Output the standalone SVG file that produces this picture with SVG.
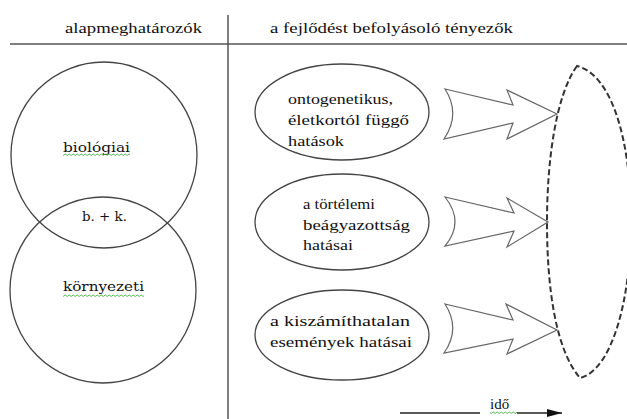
<svg xmlns="http://www.w3.org/2000/svg" width="627" height="419" viewBox="0 0 627 419" font-family="'Liberation Serif', serif">
<style>
  .t { font-size: 15px; fill: #111; }
  .ds { font-family: 'DejaVu Serif', serif; font-size: 13.5px; }
  .node { fill: none; stroke: #444; stroke-width: 1.3; }
  .ell { fill: #fff; stroke: #444; stroke-width: 1.3; }
  .blk { fill: #fff; stroke: #666; stroke-width: 1.2; stroke-linejoin: miter; }
  .dash { fill: none; stroke: #333; stroke-width: 2; stroke-dasharray: 6 3; }
  .rule { stroke: #555; stroke-width: 1.5; fill: none; }
</style>
<defs>
  <pattern id="wave" width="4" height="3" patternUnits="userSpaceOnUse">
    <path d="M0,2 Q1,0 2,1.5 T4,2" fill="none" stroke="#3a3" stroke-width="0.8"/>
  </pattern>
  <marker id="ah" viewBox="0 0 10 10" refX="10" refY="5" markerWidth="15" markerHeight="8" markerUnits="userSpaceOnUse" orient="auto" preserveAspectRatio="none">
    <path d="M0,0 L10,5 L0,10 Z" fill="#111"/>
  </marker>
</defs>

<g id="frame">
  <line class="rule" x1="10" y1="44" x2="627" y2="44"/>
  <line class="rule" x1="228" y1="15" x2="228" y2="419"/>
  <text class="t" x="65" y="33" textLength="137" lengthAdjust="spacingAndGlyphs">alapmeghatározók</text>
  <text class="t" x="270" y="33" textLength="243" lengthAdjust="spacingAndGlyphs">a fejlődést befolyásoló tényezők</text>
</g>

<g id="biologiai">
  <circle class="node" cx="104" cy="155" r="93"/>
  <text class="t ds" x="63" y="152" textLength="67" lengthAdjust="spacingAndGlyphs">biológiai</text>
  <rect x="63" y="153" width="67" height="3" fill="url(#wave)"/>
</g>
<g id="kornyezeti">
  <circle class="node" cx="103" cy="290" r="93"/>
  <text class="t ds" x="63" y="291" textLength="81" lengthAdjust="spacingAndGlyphs">környezeti</text>
  <rect x="63" y="294" width="81" height="3" fill="url(#wave)"/>
</g>
<g id="bk">
  <text class="t ds" x="82" y="221" textLength="45" lengthAdjust="spacingAndGlyphs">b. + k.</text>
</g>

<g id="ontogenetikus">
  <ellipse class="ell" cx="342" cy="112" rx="87" ry="48"/>
  <text class="t" x="288" y="104" textLength="105" lengthAdjust="spacingAndGlyphs">ontogenetikus,</text>
  <text class="t" x="288" y="125" textLength="121" lengthAdjust="spacingAndGlyphs">életkortól függő</text>
  <text class="t" x="288" y="146" textLength="56" lengthAdjust="spacingAndGlyphs">hatások</text>
</g>
<g id="tortenelmi">
  <ellipse class="ell" cx="342" cy="222" rx="87" ry="48"/>
  <text class="t" x="303" y="209" textLength="72" lengthAdjust="spacingAndGlyphs">a törtélemi</text>
  <text class="t" x="303" y="230" textLength="107" lengthAdjust="spacingAndGlyphs">beágyazottság</text>
  <text class="t" x="303" y="250" textLength="50" lengthAdjust="spacingAndGlyphs">hatásai</text>
</g>
<g id="kiszamithatatlan">
  <ellipse class="ell" cx="342" cy="335" rx="87" ry="45"/>
  <text class="t" x="270" y="326" textLength="140" lengthAdjust="spacingAndGlyphs">a kiszámíthatalan</text>
  <text class="t" x="270" y="347" textLength="142" lengthAdjust="spacingAndGlyphs">események hatásai</text>
</g>

<g id="eredmeny">
  <path class="dash" d="M577,66 C556,95 547,160 547,222 C547,290 556,350 580,378 C612,370 631,300 631,222 C631,140 612,75 577,66 Z"/>
</g>

<g id="connectors">
  <path class="blk" d="M445,89 L513,105 L507,90 L557,114 L507,139 L513,123 L444,139 Q461,114 445,89 Z"/>
  <path class="blk" d="M445,197 L514,213 L507,198 L548,222 L507,247 L514,231 L445,246 Q465,222 445,197 Z"/>
  <path class="blk" d="M445,304 L513,320 L506,304 L557,330 L507,354 L513,339 L444,353 Q461,329 445,304 Z"/>
</g>

<g id="ido">
  <line x1="400" y1="413" x2="480" y2="413" stroke="#222" stroke-width="1.3"/>
  <line x1="517" y1="413" x2="562" y2="413" stroke="#222" stroke-width="1.3" marker-end="url(#ah)"/>
  <text class="t" x="490" y="409">idő</text>
  <rect x="490" y="411" width="27" height="3" fill="url(#wave)"/>
</g>
</svg>
